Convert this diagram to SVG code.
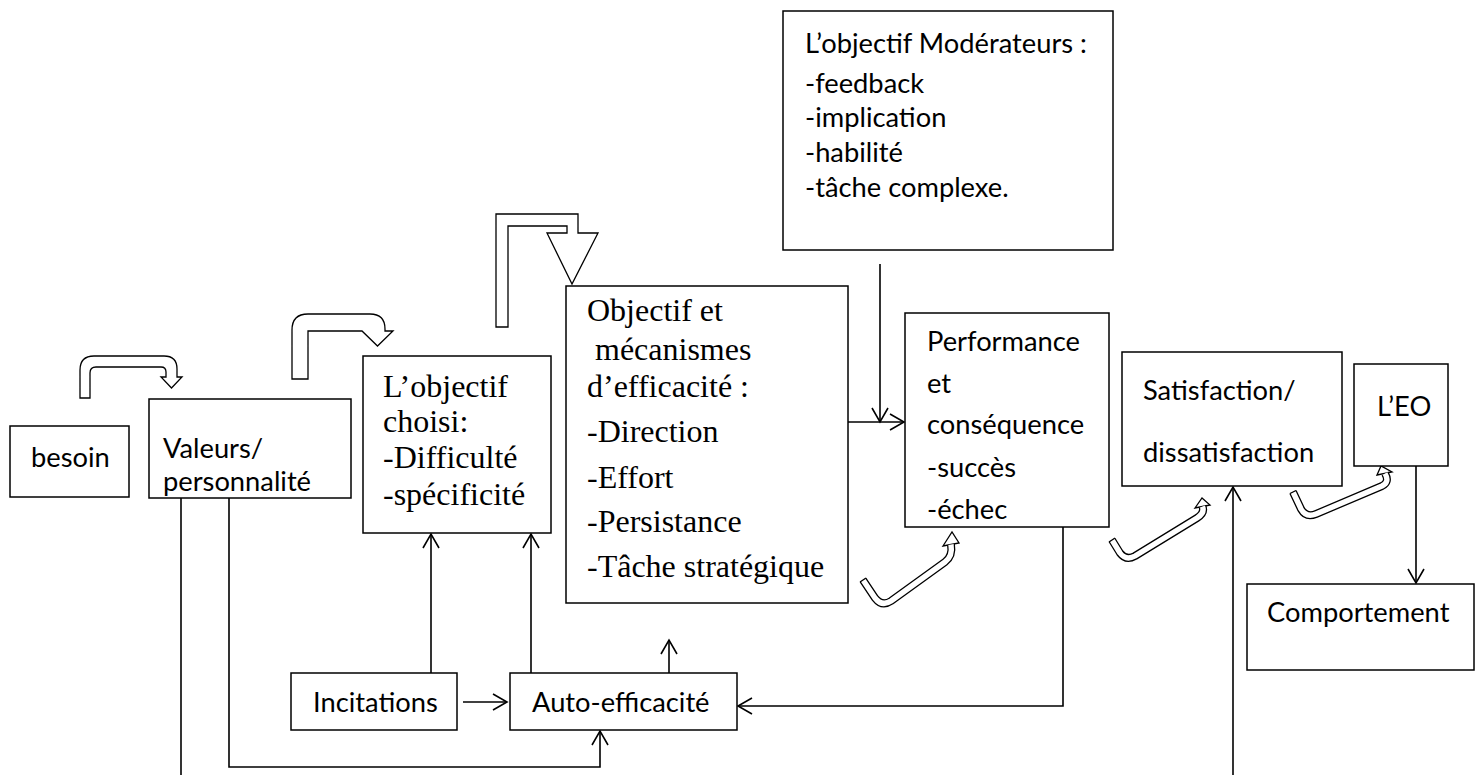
<svg xmlns="http://www.w3.org/2000/svg" width="1482" height="778" viewBox="0 0 1482 778">
<style>
.box{fill:#fff;stroke:#000;stroke-width:1.5}
.sans{font-family:Lato,"Liberation Sans",sans-serif;font-size:27.3px;fill:#000}
.serif{font-family:"Liberation Serif","Times New Roman",serif;font-size:32px;fill:#000}
.ln{fill:none;stroke:#000;stroke-width:1.6}
.blk{fill:#fff;stroke:#000;stroke-width:1.3;stroke-linejoin:miter}
.bandO{fill:none;stroke:#000;stroke-width:8;stroke-linejoin:round}
.bandI{fill:none;stroke:#fff;stroke-width:5.4;stroke-linejoin:round}
</style>
<defs>
<marker id="ah" markerUnits="userSpaceOnUse" markerWidth="20" markerHeight="20" viewBox="-16 -10 20 20" refX="0" refY="0" orient="auto">
<path d="M-14,-8 L0,0 L-14,8" fill="none" stroke="#000" stroke-width="1.6"/>
</marker>
</defs>
<rect width="1482" height="778" fill="#fff"/>

<g id="connectors">
<path class="ln" d="M181,498 V775"/>
<path class="ln" d="M229,498 V767 H600 V731" marker-end="url(#ah)"/>
<path class="ln" d="M431,673 V534" marker-end="url(#ah)"/>
<path class="ln" d="M531,673 V534" marker-end="url(#ah)"/>
<path class="ln" d="M669,673 V640" marker-end="url(#ah)"/>
<path class="ln" d="M463,702 H507" marker-end="url(#ah)"/>
<path class="ln" d="M848,422 H904" marker-end="url(#ah)"/>
<path class="ln" d="M880,264 V422" marker-end="url(#ah)"/>
<path class="ln" d="M1063,527 V706 H738" marker-end="url(#ah)"/>
<path class="ln" d="M1233,775 V487" marker-end="url(#ah)"/>
<path class="ln" d="M1416,466 V583" marker-end="url(#ah)"/>
<path class="blk" d="M80,398 V370 Q80,356 94,356 H164 Q177,356 177,369 V377 H182 L171.5,388 L161,377 H166 V372 Q166,367 161,367 H96 Q90,367 90,373 V398 Z"/>
<path class="blk" d="M292,379 V330 Q292,314 308,314 H370 Q385,314 385,329 V331 H393 L377.5,346 L362,331 H308 V379 Z"/>
<path class="blk" d="M496,327 V214 H578 V233 H598 L572,284 L547,233 H567 V226 H508 V327 Z"/>
<polygon class="blk" points="943,546 952,532 959,543"/>
<path class="bandO" d="M863,580 L875,598 Q882,607 891,601 L945,562 Q953,556 951,544.5"/>
<path class="bandI" d="M863,580 L875,598 Q882,607 891,601 L945,562 Q953,556 951,544.5"/>
<path class="ln" style="stroke-width:1.3" d="M860,582 L866,578"/>
<polygon class="blk" points="1195,508 1202,498 1210,505"/>
<path class="bandO" d="M1112,540 L1120,553 Q1126,561 1135,556 L1197,518 Q1205,513 1202.5,506.5"/>
<path class="bandI" d="M1112,540 L1120,553 Q1126,561 1135,556 L1197,518 Q1205,513 1202.5,506.5"/>
<path class="ln" style="stroke-width:1.3" d="M1109,542 L1115,538"/>
<polygon class="blk" points="1377,475 1381,466 1392,472"/>
<path class="bandO" d="M1293,492 L1301,509 Q1306,518 1316,514 L1382,486 Q1390,482 1385,473.5"/>
<path class="bandI" d="M1293,492 L1301,509 Q1306,518 1316,514 L1382,486 Q1390,482 1385,473.5"/>
<path class="ln" style="stroke-width:1.3" d="M1290,493.5 L1296,490.5"/>
</g>

<g id="besoin"><rect class="box" x="10" y="426" width="119" height="71"/><text class="sans" x="31" y="467">besoin</text></g>
<g id="valeurs"><rect class="box" x="149" y="399" width="202" height="99"/><text class="sans" x="163" y="458">Valeurs/</text><text class="sans" x="163" y="491">personnalité</text></g>
<g id="objectif-choisi"><rect class="box" x="363" y="356" width="188" height="177"/>
<text class="serif" x="383" y="397">L’objectif</text><text class="serif" x="383" y="432">choisi:</text><text class="serif" x="383" y="468">-Difficulté</text><text class="serif" x="383" y="505">-spécificité</text></g>
<g id="mecanismes"><rect class="box" x="566" y="286" width="282" height="317"/>
<text class="serif" x="587" y="321">Objectif et</text><text class="serif" x="595" y="360">mécanismes</text><text class="serif" x="587" y="397">d’efficacité :</text><text class="serif" x="587" y="442">-Direction</text><text class="serif" x="587" y="488">-Effort</text><text class="serif" x="587" y="532">-Persistance</text><text class="serif" x="587" y="577">-Tâche stratégique</text></g>
<g id="moderateurs"><rect class="box" x="783" y="11" width="330" height="239"/>
<text class="sans" x="805" y="53">L’objectif Modérateurs :</text><text class="sans" x="805" y="93">-feedback</text><text class="sans" x="805" y="127">-implication</text><text class="sans" x="805" y="162">-habilité</text><text class="sans" x="805" y="197">-tâche complexe.</text></g>
<g id="performance"><rect class="box" x="905" y="313" width="204" height="214"/>
<text class="sans" x="927" y="351">Performance</text><text class="sans" x="927" y="393">et</text><text class="sans" x="927" y="434">conséquence</text><text class="sans" x="927" y="477">-succès</text><text class="sans" x="927" y="519">-échec</text></g>
<g id="satisfaction"><rect class="box" x="1122" y="352" width="220" height="134"/>
<text class="sans" x="1143" y="400">Satisfaction/</text><text class="sans" x="1143" y="462">dissatisfaction</text></g>
<g id="eo"><rect class="box" x="1354" y="364" width="94" height="102"/><text class="sans" x="1377" y="416">L’EO</text></g>
<g id="comportement"><rect class="box" x="1247" y="584" width="227" height="86"/><text class="sans" x="1267" y="622">Comportement</text></g>
<g id="incitations"><rect class="box" x="291" y="673" width="166" height="57"/><text class="sans" x="313" y="712">Incitations</text></g>
<g id="auto-efficacite"><rect class="box" x="510" y="673" width="227" height="57"/><text class="sans" x="532" y="712">Auto-efficacité</text></g>
</svg>
